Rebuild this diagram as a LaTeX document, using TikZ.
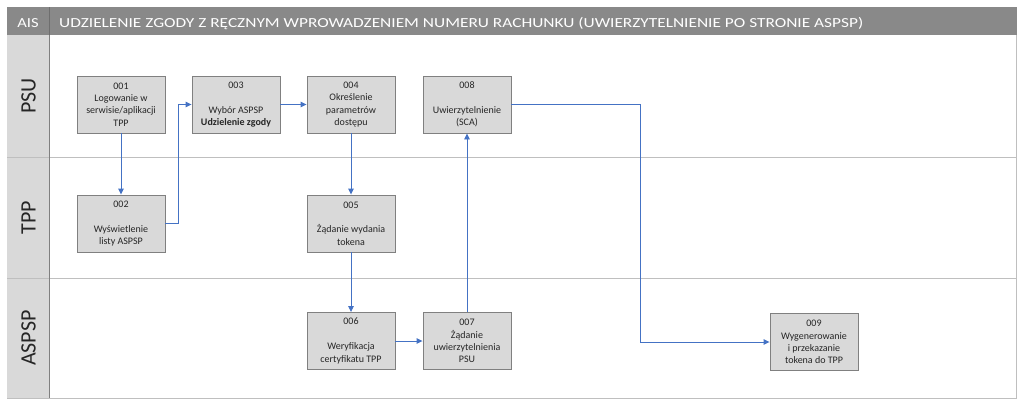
\documentclass[tikz,border=0pt]{standalone}
\usepackage{fontspec}
\setmainfont{Carlito}
\usetikzlibrary{arrows.meta}
\definecolor{hdr}{HTML}{898989}
\definecolor{hdrsep}{HTML}{6E6E6E}
\definecolor{lanefill}{HTML}{D9D9D9}
\definecolor{boxfill}{HTML}{D9D9D9}
\definecolor{boxline}{HTML}{808080}
\definecolor{sepline}{HTML}{BFBFBF}
\definecolor{conn}{HTML}{4472C4}
\begin{document}
\begin{tikzpicture}[x=1pt,y=-1pt,
  stepbox/.style={draw=boxline,line width=0.9pt,fill=boxfill,minimum width=88pt,minimum height=57pt,
    inner sep=0pt,align=center,font=\fontsize{10}{12.4}\selectfont,text=black!85},
  lanelabel/.style={rotate=90,font=\fontsize{22}{24}\selectfont,text=black!85},
  flow/.style={draw=conn,line width=0.9pt,-{Triangle[length=6pt,width=5.5pt]}}]
\useasboundingbox (0,0) rectangle (1024,407);
% header
\fill[hdr] (7,7) rectangle (1017,35);
\draw[hdrsep,line width=0.8pt] (49,7) -- (49,35);
\node[font=\fontsize{13.8}{16}\selectfont,text=white,anchor=base,inner sep=0pt] (ais) at (28,27.5) {\scalebox{1.2}[1]{AIS}};
\node[font=\fontsize{13.8}{16}\selectfont,text=white,anchor=base west,inner sep=0pt] (title) at (59,27.5) {\scalebox{1.255}[1]{UDZIELENIE ZGODY Z RĘCZNYM WPROWADZENIEM NUMERU RACHUNKU (UWIERZYTELNIENIE PO STRONIE ASPSP)}};
% lanes
\fill[lanefill] (7,35) rectangle (49,398);
\draw[sepline,line width=0.8pt] (7,157) -- (1016,157);
\draw[sepline,line width=0.8pt] (7,278) -- (1016,278);
\draw[sepline,line width=0.8pt] (7,398) -- (1016,398) -- (1016,35);
\draw[boxline,line width=0.8pt] (49,35) -- (49,398);
\node[lanelabel] (psu) at (28.5,96) {PSU};
\node[lanelabel] (tpp) at (28.5,217.5) {TPP};
\node[lanelabel] (aspsp) at (28.5,338) {ASPSP};
% boxes
\node[stepbox] (n001) at (121,104.5) {001\\Logowanie w\\serwisie/aplikacji\\TPP};
\node[stepbox] (n003) at (236,104.5) {003\\\mbox{}\\Wybór ASPSP\\\textbf{Udzielenie zgody}};
\node[stepbox] (n004) at (351,104.5) {004\\Określenie\\parametrów\\dostępu};
\node[stepbox] (n008) at (467,104.5) {008\\\mbox{}\\Uwierzytelnienie\\(SCA)};
\node[stepbox] (n002) at (121,223.5) {002\\\mbox{}\\Wyświetlenie\\listy ASPSP};
\node[stepbox] (n005) at (351,223.5) {005\\\mbox{}\\Żądanie wydania\\tokena};
\node[stepbox] (n006) at (351,341) {006\\\mbox{}\\Weryfikacja\\certyfikatu TPP};
\node[stepbox] (n007) at (467,341) {007\\Żądanie\\uwierzytelnienia\\PSU};
\node[stepbox] (n009) at (814,342) {009\\Wygenerowanie\\i przekazanie\\tokena do TPP};
% connectors
\draw[flow] (n001.south) -- (n002.north);
\draw[flow] (n002.east) -- ++(13,0) |- (n003.west);
\draw[flow] (n003.east) -- (n004.west);
\draw[flow] (n004.south) -- (n005.north);
\draw[flow] (n005.south) -- (n006.north);
\draw[flow] (n006.east) -- (n007.west);
\draw[flow] (n007.north) -- (n008.south);
\draw[flow] (n008.east) -- ++(129,0) |- (n009.west);
\end{tikzpicture}
\end{document}
